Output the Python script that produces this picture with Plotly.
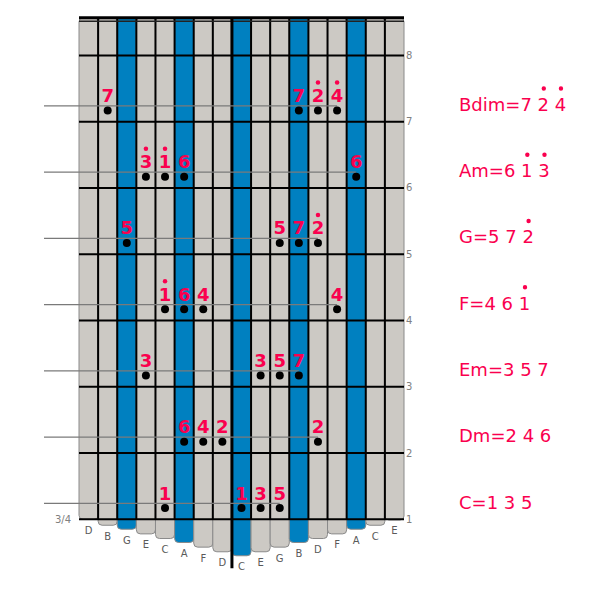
import plotly.graph_objects as go

# ---------------- data ----------------
key_names = ["D", "B", "G", "E", "C", "A", "F", "D", "C", "E", "G", "B", "D", "F", "A", "C", "E"]
key_bottom = [1.0, 0.91, 0.85, 0.78, 0.71, 0.65, 0.58, 0.51, 0.45, 0.51, 0.58, 0.65, 0.71, 0.78, 0.85, 0.91, 0.99]
blue_keys = [2, 5, 8, 11, 14]
row_ticks = [1, 2, 3, 4, 5, 6, 7, 8]

note_row = [7, 7, 7, 7, 6, 6, 6, 6, 5, 5, 5, 5, 4, 4, 4, 4, 3, 3, 3, 3, 2, 2, 2, 2, 1, 1, 1, 1]
note_key = [1, 11, 12, 13, 3, 4, 5, 14, 2, 10, 11, 12, 4, 5, 6, 13, 3, 9, 10, 11, 5, 6, 7, 12, 4, 8, 9, 10]
note_num = ["7", "7", "2", "4", "3", "1", "6", "6", "5", "5", "7", "2", "1", "6", "4", "4",
            "3", "3", "5", "7", "6", "4", "2", "2", "1", "1", "3", "5"]
note_high = [0, 0, 1, 1, 1, 1, 0, 0, 0, 0, 0, 1, 1, 0, 0, 0, 0, 0, 0, 0, 0, 0, 0, 0, 0, 0, 0, 0]

chord_row = [7, 6, 5, 4, 3, 2, 1]
chord_name = ["Bdim", "Am", "G", "F", "Em", "Dm", "C"]
chord_digits = [["7", "2", "4"], ["6", "1", "3"], ["5", "7", "2"], ["4", "6", "1"],
                ["3", "5", "7"], ["2", "4", "6"], ["1", "3", "5"]]
chord_high = [[0, 1, 1], [0, 1, 1], [0, 0, 1], [0, 0, 1], [0, 0, 0], [0, 0, 0], [0, 0, 0]]

# ---------------- layout constants (page pixels; body has an 8px margin) ----------------
OFF = 8
W, H = 585, 574
PX_KEY = 325 / 17.0          # pixels per key
PPU = 66.27                  # pixels per row unit
KEYS_LEFT_PX = 79 - OFF
LINE_LEFT_PX = 44 - OFF
PLOT_L, PLOT_R = 40 - OFF, 405 - OFF
PLOT_T, PLOT_B = 10 - OFF, 580 - OFF
Y1_PX = 519.3 - OFF
CHORD_LEFT_PX = 459.0 - OFF   # where the chord text glyphs begin
ANN_PAD = 2                   # annotation border + pad before the text
TOP = 8.567
TOP2 = 8.515
RED = "rgb(250,0,78)"
GRAY_KEY = "#ccc9c4"
BLUE_KEY = "#0080c0"
CHORD_FONT = 18

# DejaVu Sans advance widths (em) for the label characters
ADV = {"A": 0.684, "B": 0.686, "C": 0.698, "D": 0.770, "E": 0.632, "F": 0.575, "G": 0.775,
       "d": 0.635, "i": 0.278, "m": 0.974, "=": 0.838, " ": 0.318}
for dgt in "0123456789":
    ADV[dgt] = 0.636


def text_w(s, size):
    return sum(ADV.get(c, 0.6) for c in s) * size


x_lo = -(KEYS_LEFT_PX - PLOT_L) / PX_KEY
x_hi = x_lo + (PLOT_R - PLOT_L) / PX_KEY
y_hi = 1 + (Y1_PX - PLOT_T) / PPU
y_lo = 1 - (PLOT_B - Y1_PX) / PPU
n = len(key_names)
PW, PH = PLOT_R - PLOT_L, PLOT_B - PLOT_T


def px_to_x(px):
    return (px - KEYS_LEFT_PX) / PX_KEY


fig = go.Figure()

# keys (tines) as bars hanging from the top
fig.add_trace(go.Bar(
    x=[i + 0.5 for i in range(n)],
    base=[TOP] * n,
    y=[b - TOP for b in key_bottom],
    width=1,
    marker=dict(color=[BLUE_KEY if i in blue_keys else GRAY_KEY for i in range(n)],
                line=dict(color="#8a8a8a", width=1), cornerradius=4),
    hoverinfo="skip", showlegend=False))


def seg_trace(xs, ys, color, width):
    fig.add_trace(go.Scatter(x=xs, y=ys, mode="lines", line=dict(color=color, width=width),
                             hoverinfo="skip", showlegend=False, cliponaxis=False))


# black horizontal grid lines across keys
gx, gy = [], []
for t in row_ticks:
    gx += [0, n, None]
    gy += [t, t, None]
seg_trace(gx, gy, "black", 2)

# black separators between keys
sx, sy = [], []
for i in range(1, n):
    sx += [i, i, None]
    sy += [1, TOP, None]
seg_trace(sx, sy, "black", 2)

# top border lines
seg_trace([0, n], [TOP, TOP], "black", 3)
seg_trace([0, n], [TOP2, TOP2], "#222222", 1.5)

# centre line
seg_trace([8, 8], [0.26, TOP], "black", 3)

# grey row lines through the dots
lx, ly = [], []
for r in chord_row:
    ks = [k for k, rr in zip(note_key, note_row) if rr == r]
    lx += [px_to_x(LINE_LEFT_PX), max(ks) + 0.5, None]
    ly += [r + 0.24, r + 0.24, None]
seg_trace(lx, ly, "#7a7a7a", 1.2)

# note dots
fig.add_trace(go.Scatter(
    x=[k + 0.5 for k in note_key], y=[r + 0.17 for r in note_row], mode="markers",
    marker=dict(color="black", size=8), hoverinfo="skip", showlegend=False))

# note numbers
fig.add_trace(go.Scatter(
    x=[k + 0.5 for k in note_key], y=[r + 0.17 + 13 / PPU for r in note_row], mode="text",
    text=note_num, textposition="middle center",
    textfont=dict(family="DejaVu Sans", size=18, color=RED, weight="bold"),
    hoverinfo="skip", showlegend=False))

# octave dots above numbers
hx = [k + 0.5 for k, h in zip(note_key, note_high) if h]
hy = [r + 0.17 + 28 / PPU for r, h in zip(note_row, note_high) if h]
fig.add_trace(go.Scatter(x=hx, y=hy, mode="markers", marker=dict(color=RED, size=4.5),
                         hoverinfo="skip", showlegend=False))

# key letters under the tines
fig.add_trace(go.Scatter(
    x=[i + 0.5 for i in range(n)], y=[b - 12 / PPU for b in key_bottom], mode="text",
    text=key_names, textposition="middle center",
    textfont=dict(family="DejaVu Sans", size=10, color="#5a5a5a"),
    hoverinfo="skip", showlegend=False, cliponaxis=False))

annotations = []
shapes = []
# chord labels on the right
chord_x = (CHORD_LEFT_PX - ANN_PAD - PLOT_L) / PW
DOT_R = 2.2
for r, name, digs, highs in zip(chord_row, chord_name, chord_digits, chord_high):
    txt = name + "=" + " ".join(digs)
    annotations.append(dict(x=chord_x, xref="paper", y=r + 0.26, yref="y", text=txt,
                            xanchor="left", yanchor="middle", showarrow=False,
                            font=dict(family="DejaVu Sans", size=CHORD_FONT, color=RED)))
    for j, h in enumerate(highs):
        if h:
            prefix = name + "=" + "".join(d + " " for d in digs[:j])
            cx = CHORD_LEFT_PX + text_w(prefix, CHORD_FONT) + ADV[digs[j]] * CHORD_FONT / 2 + 0.5
            cy_val = r + 0.26 + 16 / PPU
            px = (cx - PLOT_L) / PW
            py = (cy_val - y_lo) / (y_hi - y_lo)
            shapes.append(dict(type="circle", xref="paper", yref="paper",
                               x0=px - DOT_R / PW, x1=px + DOT_R / PW,
                               y0=py - DOT_R / PH, y1=py + DOT_R / PH,
                               fillcolor=RED, line=dict(width=0)))

annotations.append(dict(x=0, y=1, xref="x", yref="y", text="3/4", xanchor="right",
                        yanchor="middle", xshift=-6, showarrow=False,
                        font=dict(family="DejaVu Sans", size=10, color="#808080")))

fig.update_layout(
    width=W, height=H,
    margin=dict(l=PLOT_L, r=W - PLOT_R, t=PLOT_T, b=H - PLOT_B, autoexpand=False),
    paper_bgcolor="white", plot_bgcolor="white",
    showlegend=False, barmode="overlay",
    xaxis=dict(range=[x_lo, x_hi], showgrid=False, zeroline=False, showticklabels=False,
               showline=False, fixedrange=True),
    yaxis=dict(range=[y_lo, y_hi], side="right", tickvals=row_ticks,
               ticktext=[str(t) for t in row_ticks], showgrid=False, zeroline=False,
               showline=False, ticks="", tickfont=dict(family="DejaVu Sans", size=10, color="#808080"),
               fixedrange=True),
    annotations=annotations,
    shapes=shapes,
)

fig.write_html("out.html")
